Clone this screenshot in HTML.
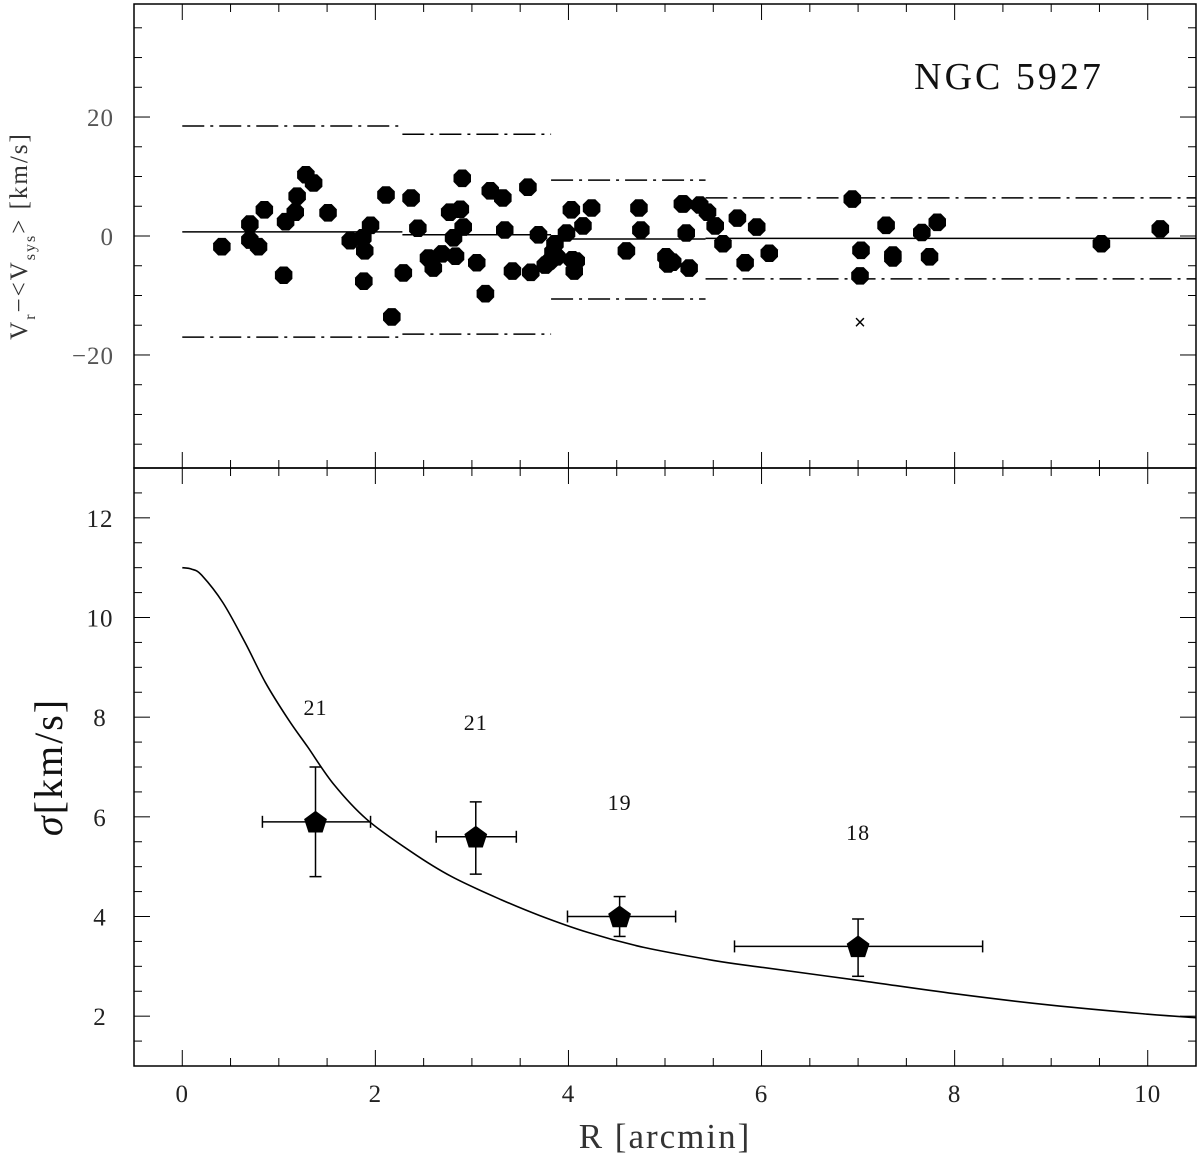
<!DOCTYPE html>
<html><head><meta charset="utf-8"><style>
html,body{margin:0;padding:0;background:#fff;}
svg{display:block;font-family:"Liberation Serif","DejaVu Serif",serif;}
</style></head><body>
<svg id="chart" width="1200" height="1158" viewBox="0 0 1200 1158">
<g id="topPanel"></g>
<g id="botPanel"></g>
</svg>
<script>
// ---- top panel data ----
const velR = [0.41,0.70,0.70,0.79,0.85,1.05,1.07,1.17,1.19,1.28,1.36,1.51,1.74,1.87,1.89,1.88,1.95,2.11,2.17,2.29,2.37,2.44,2.55,2.60,2.69,2.77,2.81,2.83,2.88,2.90,2.91,3.05,3.14,3.19,3.32,3.34,3.42,3.58,3.61,3.69,3.76,3.81,3.84,3.86,3.88,3.98,4.03,4.04,4.06,4.08,4.15,4.24,4.60,4.73,4.75,5.01,5.03,5.08,5.19,5.22,5.25,5.18,5.36,5.44,5.52,5.60,5.75,5.95,5.83,6.08,6.94,7.03,7.02,7.29,7.36,7.36,7.66,7.74,7.82,9.52,10.13];
const velV = [-1.8,2.0,-0.7,-1.8,4.4,-6.6,2.4,4.0,6.7,10.3,8.9,3.9,-0.8,-0.3,-2.5,-7.6,1.8,6.9,-13.6,-6.2,6.4,1.3,-3.7,-5.4,-3.0,4.0,-0.3,-3.4,4.5,9.7,1.5,-4.5,-9.7,7.6,6.4,1.0,-5.9,8.2,-6.1,0.2,-4.9,-4.2,-2.7,-1.3,-3.5,0.5,4.4,-4.0,-5.9,-4.2,1.7,4.7,-2.5,4.7,1.0,-3.5,-4.7,-4.4,5.4,0.5,-5.4,5.4,5.2,4.0,1.7,-1.3,3.0,1.5,-4.5,-2.9,6.2,-2.4,-6.7,1.8,-3.2,-3.7,0.6,-3.5,2.3,-1.3,1.2];
const rejR = [7.02];
const rejV = [-14.6];
const binLo = [0, 2.28, 3.82, 5.42];
const binHi = [2.28, 3.82, 5.42, 10.5];
const binMean = [0.7, 0.2, -0.5, -0.4];
const binUp = [18.5, 17.1, 9.4, 6.4];
const binDn = [-17.0, -16.5, -10.6, -7.2];
const velTicks = [-20, 0, 20];
// ---- bottom panel data ----
const sigR = [1.38, 3.04, 4.53, 7.00];
const sigV = [5.9, 5.6, 4.0, 3.4];
const sigRlo = [0.83, 2.63, 3.99, 5.72];
const sigRhi = [1.95, 3.46, 5.11, 8.29];
const sigVlo = [4.8, 4.85, 3.6, 2.8];
const sigVhi = [7.0, 6.3, 4.4, 3.95];
const countLbl = ["21","21","19","18"];
const countY = [8.2, 7.9, 6.3, 5.7];
const modelR = [0,0.1,0.2,0.42,0.65,0.86,1.1,1.3,1.57,1.91,2.37,2.79,3.3,3.7,4.2,4.78,5.5,6,7,8,9,10,10.5];
const modelS = [11,10.97,10.85,10.3,9.5,8.7,7.95,7.4,6.65,5.95,5.3,4.8,4.34,4.02,3.68,3.38,3.12,2.98,2.72,2.45,2.22,2.04,1.97];
const xTicks = [0,2,4,6,8,10];
const sigTicks = [2,4,6,8,10,12];

const NS="http://www.w3.org/2000/svg";
function mk(p,t,a){const e=document.createElementNS(NS,t);for(const k in a)e.setAttribute(k,a[k]);p.appendChild(e);return e;}
function oct(cx,cy,rad){let p=[];for(let k=0;k<8;k++){const a=Math.PI/8+k*Math.PI/4;p.push((cx+rad*Math.cos(a)).toFixed(1)+','+(cy+rad*Math.sin(a)).toFixed(1));}return p.join(' ');}
const L=134,R=1196;
const X=v=>L+(v+0.5)/11*(R-L);
const T0=4,T1=468,B1=1066;
const YT=v=>T0+(39-v)/78*(T1-T0);
const YB=v=>T1+(13-v)/12*(B1-T1);
const topG=document.getElementById('topPanel'), botG=document.getElementById('botPanel');

let f=mk(topG,'rect',{x:L,y:T0,width:R-L,height:T1-T0,fill:'none',stroke:'#000','stroke-width':1.5});


f=mk(botG,'rect',{x:L,y:T1,width:R-L,height:B1-T1,fill:'none',stroke:'#000','stroke-width':1.5});



for(let i=0;i<=20;i++){const v=i*0.5;const maj=(i%4===0);const len=maj?16:8;
 const px=X(v);
 mk(botG,'line',{x1:px,y1:B1,x2:px,y2:B1-len,stroke:'#000','stroke-width':1});
 mk(botG,'line',{x1:px,y1:T1,x2:px,y2:T1+len,stroke:'#000','stroke-width':1});
 mk(topG,'line',{x1:px,y1:T1,x2:px,y2:T1-len,stroke:'#000','stroke-width':1});
 mk(topG,'line',{x1:px,y1:T0,x2:px,y2:T0+len,stroke:'#000','stroke-width':1});
}
xTicks.forEach(v=>{const t=mk(botG,'text',{x:X(v),y:1102,'font-size':25,'letter-spacing':1,'text-anchor':'middle',fill:'#222'});t.textContent=v;
 
 });
for(let v=1.5;v<=13;v+=0.5){const maj=(Math.abs(v%2)<1e-6);const len=maj?16:8;const py=YB(v);
 mk(botG,'line',{x1:L,y1:py,x2:L+len,y2:py,stroke:'#000','stroke-width':1});
 mk(botG,'line',{x1:R,y1:py,x2:R-len,y2:py,stroke:'#000','stroke-width':1});}
sigTicks.forEach(v=>{const t=mk(botG,'text',{x:100,y:YB(v)+9,'font-size':25,'letter-spacing':1,'text-anchor':'middle',fill:'#222'});t.textContent=v;
 
 });
for(let v=-35;v<=35;v+=5){const maj=(v%20===0);const len=maj?16:8;const py=YT(v);
 mk(topG,'line',{x1:L,y1:py,x2:L+len,y2:py,stroke:'#000','stroke-width':1});
 mk(topG,'line',{x1:R,y1:py,x2:R-len,y2:py,stroke:'#000','stroke-width':1});}
velTicks.forEach(v=>{const t=mk(topG,'text',{x:114,y:YT(v)+9,'font-size':25,'letter-spacing':1,'text-anchor':'end',fill:'#555'});t.textContent=(v<0?'\u2212':'')+Math.abs(v);
 
 });

binLo.forEach((lo,i)=>{
 const hi=binHi[i];
 let s=mk(topG,'line',{x1:X(lo),x2:X(hi),y1:YT(binMean[i]),y2:YT(binMean[i]),stroke:'#000','stroke-width':1.5});
 
 
 [binUp[i],binDn[i]].forEach(v=>{
  const d=mk(topG,'line',{x1:X(lo),x2:X(hi),y1:YT(v),y2:YT(v),stroke:'#000','stroke-width':1.5,'stroke-dasharray':'22,6,3,6'});
  
  
 });
});
velR.forEach((r,i)=>{
 const c=mk(topG,'polygon',{points:oct(X(r),YT(velV[i]),9.5),fill:'#000'});
 
 
});
rejR.forEach((r,i)=>{
 const t=mk(topG,'text',{x:X(r),y:YT(rejV[i])+6,'font-size':20,'text-anchor':'middle','font-family':'Liberation Sans, sans-serif'});t.textContent='\u00d7';
 
 
});
let nt=mk(topG,'text',{x:1009,y:89,'font-size':38,'letter-spacing':3,'text-anchor':'middle',fill:'#111'});nt.textContent='NGC 5927';


let yt=mk(topG,'text',{transform:'translate(27,236) rotate(-90)','font-size':25,'letter-spacing':2,'text-anchor':'middle',fill:'#333'});
yt.innerHTML='V<tspan font-size="16" dy="8">r</tspan><tspan dy="-8">\u2212&lt;V</tspan><tspan font-size="16" dy="8">sys</tspan><tspan dy="-8">&gt; [km/s]</tspan>';



// smooth path through model samples (Catmull-Rom)
const P=modelR.map((r,i)=>[X(r),YB(modelS[i])]);
let d='M'+P[0][0].toFixed(1)+','+P[0][1].toFixed(1);
for(let i=0;i<P.length-1;i++){const p0=P[Math.max(0,i-1)],p1=P[i],p2=P[i+1],p3=P[Math.min(P.length-1,i+2)];
 const c1=[p1[0]+(p2[0]-p0[0])/6,p1[1]+(p2[1]-p0[1])/6],c2=[p2[0]-(p3[0]-p1[0])/6,p2[1]-(p3[1]-p1[1])/6];
 d+=' C'+c1.map(n=>n.toFixed(1)).join(',')+' '+c2.map(n=>n.toFixed(1)).join(',')+' '+p2.map(n=>n.toFixed(1)).join(',');}
let cv=mk(botG,'path',{d:d,fill:'none',stroke:'#000','stroke-width':1.6});


sigR.forEach((r,i)=>{
 const g=mk(botG,'g',{});
 
 
 const x0=X(sigRlo[i]),x1=X(sigRhi[i]),y=YB(sigV[i]),x=X(r),ya=YB(sigVhi[i]),yb=YB(sigVlo[i]);
 mk(g,'line',{x1:x0,x2:x1,y1:y,y2:y,stroke:'#000','stroke-width':1.5});
 mk(g,'line',{x1:x0,x2:x0,y1:y-6,y2:y+6,stroke:'#000','stroke-width':1.5});
 mk(g,'line',{x1:x1,x2:x1,y1:y-6,y2:y+6,stroke:'#000','stroke-width':1.5});
 mk(g,'line',{x1:x,x2:x,y1:ya,y2:yb,stroke:'#000','stroke-width':1.5});
 mk(g,'line',{x1:x-6,x2:x+6,y1:ya,y2:ya,stroke:'#000','stroke-width':1.5});
 mk(g,'line',{x1:x-6,x2:x+6,y1:yb,y2:yb,stroke:'#000','stroke-width':1.5});
 let p=[];for(let k=0;k<5;k++){const a=-Math.PI/2+k*2*Math.PI/5;p.push((x+12*Math.cos(a)).toFixed(1)+','+(y+12*Math.sin(a)+1).toFixed(1));}
 mk(g,'polygon',{points:p.join(' '),fill:'#000'});
 const t=mk(botG,'text',{x:x,y:YB(countY[i])+8,'font-size':22,'letter-spacing':1,'text-anchor':'middle',fill:'#111'});t.textContent=countLbl[i];
 
 
});
let xl=mk(botG,'text',{x:665,y:1148,'font-size':35,'letter-spacing':2,'text-anchor':'middle',fill:'#333'});xl.textContent='R [arcmin]';


let yl=mk(botG,'text',{transform:'translate(62,767) rotate(-90)','font-size':40,'letter-spacing':2,'text-anchor':'middle',fill:'#111'});
yl.innerHTML='<tspan font-style="italic">\u03c3</tspan>[km/s]';


</script>
</body></html>
